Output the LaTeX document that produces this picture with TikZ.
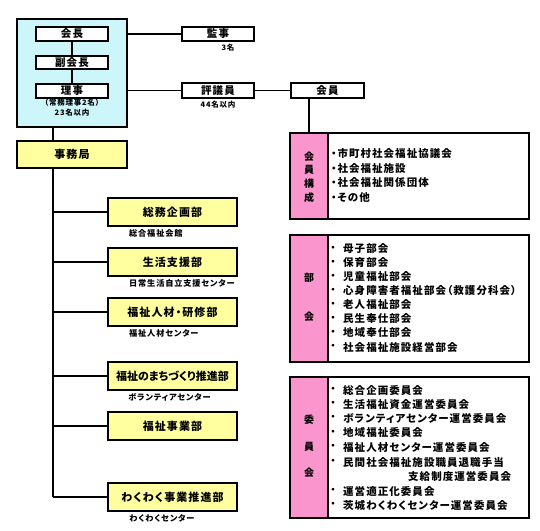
\documentclass[tikz,border=0pt]{standalone}
\usepackage{fontspec}
\setmainfont{Noto Sans CJK JP}[LetterSpace=10,RawFeature=+palt]
\definecolor{bluefill}{RGB}{204,246,250}
\definecolor{yelfill}{RGB}{255,255,160}
\definecolor{pinkfill}{RGB}{250,150,205}
\begin{document}
\begin{tikzpicture}[x=1pt,y=-1pt,
  box/.style={draw, line width=1.2pt, inner sep=0pt},
  ttl/.style={box, fill=white, minimum width=72pt, minimum height=14pt, font=\bfseries\fontsize{10.5}{10.5}\selectfont},
  dept/.style={box, fill=yelfill, minimum width=129pt, minimum height=28pt, font=\bfseries\fontsize{11}{11}\selectfont},
  note/.style={inner sep=0pt, font=\bfseries\fontsize{7.5}{7.5}\selectfont},
  sub/.style={inner sep=0pt, anchor=west, font=\bfseries\fontsize{8.2}{8.2}\selectfont},
  item/.style={inner sep=0pt, anchor=west, font=\bfseries\fontsize{10.5}{10.5}\selectfont},
  bul/.style={inner sep=0pt, font=\bfseries\fontsize{10}{10}\selectfont},
  side/.style={inner sep=0pt, font=\bfseries\fontsize{10}{10}\selectfont},
  conn/.style={line width=1.6pt}]
\useasboundingbox (0,0) rectangle (540,530);
% board box
\node[box, fill=bluefill, minimum width=110pt, minimum height=108pt] (board) at (72,73) {};
\node[ttl] (kaicho) at (72,34) {会長};
\node[ttl, minimum height=13pt] (fuku) at (72,62.5) {副会長};
\node[ttl] (riji) at (72,91) {理事};
\draw[conn] (kaicho) -- (fuku);
\draw[conn] (fuku) -- (riji);
\node[note] (riji1) at (72,103) {（常務理事2名）};
\node[note] (riji2) at (72,113) {23名以内};
% secretariat
\node[box, fill=yelfill, minimum width=110pt, minimum height=27pt, font=\bfseries\fontsize{11}{11}\selectfont] (jimu) at (72,154.5) {事務局};
\coordinate (bt) at (53,127);
\draw[conn] (bt) -- (bt |- jimu.north);
% auditors, councillors, members
\node[ttl] (kanji) at (218,34) {監事};
\node[note] (kanjin) at (228,48) {3名};
\node[ttl, minimum height=15pt] (hyogi) at (218,90.5) {評議員};
\node[note] (hyogin) at (218,105) {44名以内};
\node[ttl, minimum width=73pt, minimum height=15pt] (kaiin) at (327.5,90.5) {会員};
\draw[conn] (board.east |- kanji) -- (kanji.west);
\draw[conn] (board.east |- hyogi) -- (hyogi.west);
\draw[conn] (hyogi.east) -- (kaiin.west);
% member composition
\node[box, fill=pinkfill, minimum width=38pt, minimum height=86pt] (koseih) at (309,176) {};
\node[box, minimum width=239pt, minimum height=86pt] (kosei) at (409.5,176) {};
\coordinate (kt) at (309,98);
\draw[conn] (kt) -- (kt |- kosei.north);
\foreach \c/\y [count=\i] in {会/157,員/170,構/184,成/198} \node[side] (ks\i) at (309,\y) {\c};
\foreach \t/\y [count=\i] in {・市町村社会福祉協議会/154,・社会福祉施設/169,・社会福祉関係団体/183,・その他/198}
  \node[item] (ki\i) at (331,\y) {\t};
% bukai
\node[box, fill=pinkfill, minimum width=38pt, minimum height=127pt] (bukaih) at (309,298.5) {};
\node[box, minimum width=239pt, minimum height=127pt] (bukai) at (409.5,298.5) {};
\node[side] (bs1) at (309,278) {部};
\node[side] (bs2) at (309,317) {会};
\foreach \t/\y [count=\i] in {母子部会/249,保育部会/263,児童福祉部会/277,心身障害者福祉部会（救護分科会）/291,老人福祉部会/305,民生奉仕部会/319,地域奉仕部会/333,社会福祉施設経営部会/347}
  {\node[bul] (bb\i) at (333,\y) {・};
   \node[item] (bi\i) at (343,\y) {\t};}
% iinkai
\node[box, fill=pinkfill, minimum width=38pt, minimum height=141pt] (iinh) at (309,447.5) {};
\node[box, minimum width=239pt, minimum height=141pt] (iin) at (409.5,447.5) {};
\node[side] (is1) at (309,420) {委};
\node[side] (is2) at (309,447) {員};
\node[side] (is3) at (309,473) {会};
\foreach \t/\y [count=\i] in {総合企画委員会/390,生活福祉資金運営委員会/404,ボランティアセンター運営委員会/418,地域福祉委員会/433,福祉人材センター運営委員会/447,民間社会福祉施設職員退職手当/462,運営適正化委員会/491,茨城わくわくセンター運営委員会/505}
  {\node[bul] (ib\i) at (333,\y) {・};
   \node[item] (ii\i) at (343,\y) {\t};}
\node[item] (ii9) at (408,476) {支給制度運営委員会};
% departments
\foreach \t/\y/\n in {総務企画部/212/d1,生活支援部/262/d2,福祉人材・研修部/312/d3,{\addfontfeatures{LetterSpace=0}福祉のまちづくり推進部}/376/d4,福祉事業部/426/d5,わくわく事業推進部/497/d6}
  {\node[dept] (\n) at (172.5,\y) {\t};
   \coordinate (t\n) at (53,\y);
   \draw[conn] (t\n) -- (\n.west);}
\coordinate (jb) at (53,168);
\draw[line width=2pt] (jb) -- (td6);
\node[sub] (s1) at (129,233) {総合福祉会館};
\node[sub] (s2) at (129,283) {日常生活自立支援センター};
\node[sub] (s3) at (129,333) {福祉人材センター};
\node[sub] (s4) at (128,397) {ボランティアセンター};
\node[sub] (s6) at (129,518) {わくわくセンター};
\end{tikzpicture}
\end{document}
